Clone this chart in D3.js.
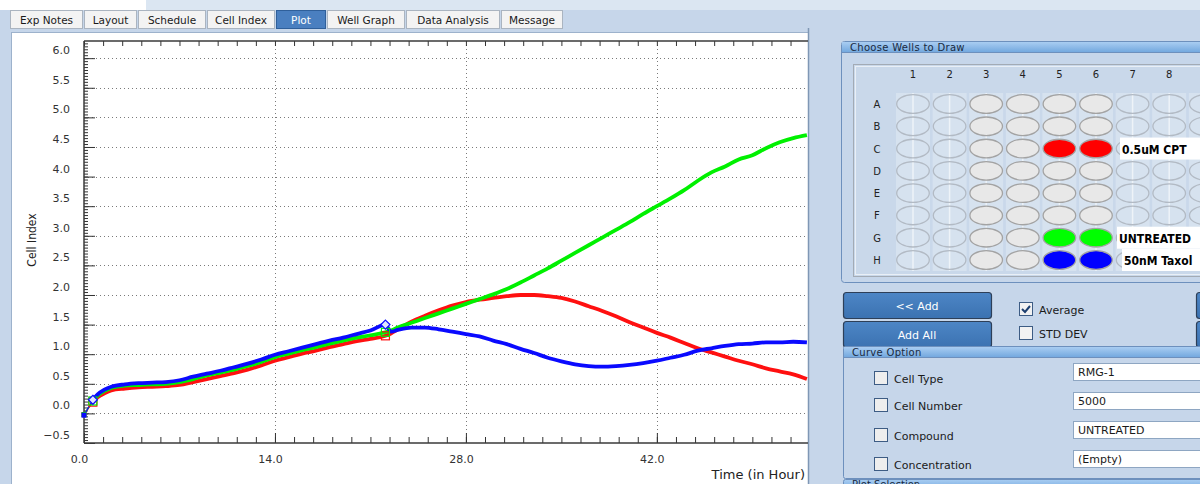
<!DOCTYPE html>
<html>
<head>
<meta charset="utf-8">
<script src="https://cdn.jsdelivr.net/npm/d3@7"></script>
<style>
  html, body { margin: 0; padding: 0; background: #c6d6ea; }
  svg { display: block; }
  text { font-family: "DejaVu Sans", Verdana, sans-serif; }
</style>
</head>
<body>
<svg id="app" width="1200" height="484"></svg>
<script>
// ---- Cell index readings (hours after seeding) ----
const hours = [0, 0.65, 1, 1.5, 2, 3, 4, 5, 6, 7, 8, 9, 10, 11, 12, 13, 14, 15, 16, 17, 18, 19, 20, 21,
  22.1, 22.5, 23, 24, 25, 26, 27, 28, 29, 30, 31, 32, 33, 34, 35, 36, 37, 38, 39, 40,
  41, 42, 43, 44, 45, 46, 47, 48, 49, 50, 51, 52, 53];

const cptValues = [-0.02, 0.19, 0.27, 0.34, 0.39, 0.42, 0.44, 0.45, 0.46, 0.48, 0.53, 0.58, 0.63, 0.68, 0.74, 0.81, 0.89, 0.95, 1.01, 1.06, 1.12, 1.17, 1.22, 1.26,
  1.31, 1.35, 1.42, 1.55, 1.65, 1.74, 1.82, 1.88, 1.92, 1.95, 1.98, 2.00, 2.00, 1.98, 1.95, 1.89, 1.81, 1.73, 1.64, 1.54,
  1.45, 1.36, 1.28, 1.19, 1.10, 1.03, 0.96, 0.89, 0.83, 0.76, 0.71, 0.66, 0.58];

const untreatedValues = [-0.02, 0.21, 0.30, 0.38, 0.43, 0.47, 0.48, 0.49, 0.50, 0.53, 0.58, 0.64, 0.69, 0.74, 0.80, 0.87, 0.95, 1.01, 1.07, 1.12, 1.18, 1.23, 1.28, 1.32,
  1.37, 1.40, 1.45, 1.53, 1.61, 1.69, 1.77, 1.85, 1.93, 2.01, 2.10, 2.21, 2.33, 2.45, 2.58, 2.71, 2.84, 2.97, 3.10, 3.23,
  3.37, 3.50, 3.63, 3.77, 3.93, 4.07, 4.17, 4.29, 4.36, 4.48, 4.58, 4.65, 4.70];

const taxolValues = [-0.03, 0.23, 0.32, 0.40, 0.45, 0.49, 0.51, 0.52, 0.53, 0.56, 0.62, 0.67, 0.72, 0.78, 0.84, 0.91, 0.99, 1.05, 1.11, 1.17, 1.23, 1.28, 1.34, 1.40,
  1.50, 1.38, 1.41, 1.45, 1.45, 1.42, 1.38, 1.34, 1.30, 1.23, 1.17, 1.09, 1.02, 0.94, 0.88, 0.83, 0.80, 0.79, 0.80, 0.82,
  0.85, 0.89, 0.94, 0.99, 1.06, 1.10, 1.14, 1.17, 1.18, 1.20, 1.20, 1.21, 1.20];

// readings that carry a sweep marker (start of sweep 2, compound addition)
const markerIndexes = [1, 24];

// ---- Axis ticks ----
const yTickValues = [-0.5, 0, 0.5, 1, 1.5, 2, 2.5, 3, 3.5, 4, 4.5, 5, 5.5, 6];
const yGridValues = [0, 0.5, 1, 1.5, 2, 2.5, 3, 3.5, 4, 4.5, 5, 5.5, 6];
const xTickValues = [0, 14, 28, 42];

// ---- Plate layout ----
const plateRows = ["A", "B", "C", "D", "E", "F", "G", "H"];
const plateCols = [1, 2, 3, 4, 5, 6, 7, 8, 9];
const usedCols = [3, 4, 5, 6];
const groupRows = ["C", "G", "H"];
const groupCols = [5, 6];
const groupNames = ["0.5uM CPT", "UNTREATED", "50nM Taxol"];
const groupColors = ["#ff0000", "#00ff00", "#0000ff"];

// ---- Tabs ----
const tabNames = ["Exp Notes", "Layout", "Schedule", "Cell Index", "Plot", "Well Graph", "Data Analysis", "Message"];
const tabWidths = [72, 52, 67, 67, 49, 77, 93, 61];
const activeTab = "Plot";

// ---- Curve option form ----
const optionNames = ["Cell Type", "Cell Number", "Compound", "Concentration"];
const optionValues = ["RMG-1", "5000", "UNTREATED", "(Empty)"];

const svg = d3.select("#app");
const defs = svg.append("defs");

const hdrGrad = defs.append("linearGradient").attr("id", "hdr").attr("x1", 0).attr("y1", 0).attr("x2", 0).attr("y2", 1);
hdrGrad.append("stop").attr("offset", "0%").attr("stop-color", "#a9cdf2");
hdrGrad.append("stop").attr("offset", "100%").attr("stop-color", "#74a9df");

const btnGrad = defs.append("linearGradient").attr("id", "btn").attr("x1", 0).attr("y1", 0).attr("x2", 0).attr("y2", 1);
btnGrad.append("stop").attr("offset", "0%").attr("stop-color", "#4d86c6");
btnGrad.append("stop").attr("offset", "100%").attr("stop-color", "#3b72b1");

// ---------- window background ----------
svg.append("rect").attr("x", 0).attr("y", 0).attr("width", 1200).attr("height", 484).attr("fill", "#c6d6ea");
svg.append("rect").attr("x", 0).attr("y", 0).attr("width", 146).attr("height", 10).attr("fill", "#ffffff");
svg.append("rect").attr("x", 146).attr("y", 0).attr("width", 1054).attr("height", 10).attr("fill", "#dbe6f2");

// ---------- tabs ----------
const tabs = svg.append("g");
let tx = 10;
tabNames.forEach((name, i) => {
  const w = tabWidths[i];
  const active = name === activeTab;
  tabs.append("rect")
    .attr("x", tx + 0.5).attr("y", 10.5).attr("width", w).attr("height", 18)
    .attr("fill", active ? "#4a7fc0" : "#f3f3f3")
    .attr("stroke", active ? "#2f5f9a" : "#aab4c0");
  tabs.append("text")
    .attr("x", tx + w / 2 + 0.5).attr("y", 23.5)
    .attr("text-anchor", "middle")
    .attr("font-size", 10.5)
    .attr("fill", active ? "#ffffff" : "#1a1a1a")
    .text(name);
  tx += w + 2;
});

// ---------- plot panel ----------
svg.append("rect").attr("x", 11.5).attr("y", 32.5).attr("width", 797).attr("height", 460)
  .attr("fill", "#ffffff").attr("stroke", "#9db2cc");
svg.append("line").attr("x1", 808.5).attr("x2", 808.5).attr("y1", 28).attr("y2", 484)
  .attr("stroke", "#7f97b5").attr("stroke-width", 1.5);

const plot = { left: 84, right: 808, top: 41, bottom: 443 };

const x = d3.scaleLinear().domain([0, 53.08]).range([plot.left, plot.right]);
const y = d3.scaleLinear().domain([-0.5, 6.29]).range([plot.bottom, plot.top]);

defs.append("clipPath").attr("id", "plotClip")
  .append("rect").attr("x", plot.left).attr("y", plot.top - 2)
  .attr("width", plot.right - plot.left).attr("height", plot.bottom - plot.top + 4);

// grid
const grid = svg.append("g").attr("stroke", "#7a7a7a").attr("stroke-dasharray", "1,3").attr("stroke-width", 1);
grid.selectAll("line.h").data(yGridValues).join("line")
  .attr("x1", plot.left).attr("x2", plot.right)
  .attr("y1", d => Math.round(y(d)) + 0.5).attr("y2", d => Math.round(y(d)) + 0.5);
grid.selectAll("line.v").data(xTickValues.filter(d => d > 0)).join("line")
  .attr("y1", plot.top).attr("y2", plot.bottom)
  .attr("x1", d => Math.round(x(d)) + 0.5).attr("x2", d => Math.round(x(d)) + 0.5);

// minor ticks
const yMinor = d3.range(-0.5, 6.29, 0.05);
const xMinor = d3.range(0, 53.1, 1.4);

function styleAxis(g) {
  g.select(".domain").remove();
  g.selectAll(".tick line").attr("stroke", "#333");
}

svg.append("g").attr("transform", `translate(${plot.left},0)`)
  .call(d3.axisLeft(y).tickValues(yMinor).tickSize(-4).tickFormat(""))
  .call(styleAxis);
svg.append("g").attr("transform", `translate(0,${plot.bottom})`)
  .call(d3.axisBottom(x).tickValues(xMinor).tickSize(-6).tickFormat(""))
  .call(styleAxis);
svg.append("g").attr("transform", `translate(0,${plot.top})`)
  .call(d3.axisTop(x).tickValues(xMinor).tickSize(-5).tickFormat(""))
  .call(styleAxis);

// major axes with labels
const yAxis = svg.append("g").attr("transform", `translate(${plot.left},0)`)
  .call(d3.axisLeft(y).tickValues(yTickValues).tickSize(-11).tickPadding(14).tickFormat(d3.format(".1f")));
yAxis.select(".domain").remove();
yAxis.selectAll(".tick line").attr("stroke", "#333");
yAxis.selectAll(".tick text").attr("y", -8).attr("font-size", 11).attr("fill", "#333")
  .attr("font-family", "DejaVu Sans, Verdana, sans-serif");

const xAxis = svg.append("g").attr("transform", `translate(0,${plot.bottom})`)
  .call(d3.axisBottom(x).tickValues(xTickValues).tickSize(-10).tickPadding(12).tickFormat(d3.format(".1f")));
xAxis.select(".domain").remove();
xAxis.selectAll(".tick line").attr("stroke", "#333");
xAxis.selectAll(".tick text").attr("x", -5).attr("font-size", 11).attr("fill", "#333")
  .attr("font-family", "DejaVu Sans, Verdana, sans-serif");

// frame lines
const frame = svg.append("g").attr("stroke", "#3a3a3a").attr("stroke-width", 1.5);
frame.append("line").attr("x1", plot.left).attr("x2", plot.left).attr("y1", plot.top).attr("y2", plot.bottom);
frame.append("line").attr("x1", plot.left).attr("x2", plot.right).attr("y1", plot.bottom).attr("y2", plot.bottom);
frame.append("line").attr("x1", plot.left).attr("x2", plot.right).attr("y1", plot.top).attr("y2", plot.top);

// axis titles
svg.append("text")
  .attr("transform", "translate(36,240) rotate(-90)")
  .attr("text-anchor", "middle")
  .attr("font-family", "DejaVu Sans Condensed, DejaVu Sans, sans-serif")
  .attr("font-stretch", "condensed")
  .attr("font-size", 12).attr("fill", "#222")
  .text("Cell Index");
svg.append("text")
  .attr("x", 805).attr("y", 479).attr("text-anchor", "end")
  .attr("font-size", 13).attr("fill", "#222")
  .text("Time (in Hour)");

// ---------- curves ----------
const series = [
  { name: "0.5uM CPT", values: cptValues, color: "#ff1010" },
  { name: "UNTREATED", values: untreatedValues, color: "#00f000" },
  { name: "50nM Taxol", values: taxolValues, color: "#0a0aff" }
];

const curves = svg.append("g").attr("clip-path", "url(#plotClip)");
const line = d3.line().x(d => x(d[0])).y(d => y(d[1])).curve(d3.curveMonotoneX);

series.forEach(s => {
  const pts = hours.map((h, i) => [h, s.values[i]]);
  // thin lead-in segment up to the first sweep marker
  curves.append("path").datum(pts.slice(0, 2))
    .attr("d", d3.line().x(d => x(d[0])).y(d => y(d[1])))
    .attr("fill", "none").attr("stroke", s.color).attr("stroke-width", 1.2);
  curves.append("path").datum(pts.slice(1))
    .attr("d", line)
    .attr("fill", "none").attr("stroke", s.color)
    .attr("stroke-width", 3.8).attr("stroke-linejoin", "round");
});

// start points and sweep markers
const marks = svg.append("g");
series.forEach(s => {
  marks.append("rect")
    .attr("x", x(hours[0]) - 2.5).attr("y", y(s.values[0]) - 2.5)
    .attr("width", 5).attr("height", 5).attr("fill", s.color);
});
series.forEach((s, k) => {
  markerIndexes.forEach(i => {
    const cx = x(hours[i]), cy = y(s.values[i]);
    if (k === 2) {
      marks.append("path")
        .attr("d", `M${cx},${cy - 4.5} L${cx + 4.5},${cy} L${cx},${cy + 4.5} L${cx - 4.5},${cy} Z`)
        .attr("fill", "#dfe6ff").attr("stroke", s.color).attr("stroke-width", 1.2);
    } else {
      marks.append("rect").attr("x", cx - 4).attr("y", cy - 4).attr("width", 8).attr("height", 8)
        .attr("fill", "none").attr("stroke", s.color).attr("stroke-width", 1.2);
    }
  });
});

// ---------- well chooser ----------
const panel = svg.append("g");
panel.append("rect").attr("x", 841.5).attr("y", 41.5).attr("width", 380).attr("height", 241).attr("rx", 3)
  .attr("fill", "#c6d6ea").attr("stroke", "#6d90bd");
panel.append("rect").attr("x", 842).attr("y", 42).attr("width", 380).attr("height", 10).attr("fill", "url(#hdr)");
panel.append("line").attr("x1", 842).attr("x2", 1200).attr("y1", 52.5).attr("y2", 52.5).attr("stroke", "#6d90bd");
panel.append("text").attr("x", 850).attr("y", 50.5).attr("font-size", 10).attr("fill", "#1a2a40")
  .attr("letter-spacing", 0.3).text("Choose Wells to Draw");

panel.append("rect").attr("x", 853.5).attr("y", 64.5).attr("width", 360).attr("height", 212)
  .attr("fill", "#c9d8ea").attr("stroke", "#a3abb5");
panel.append("rect").attr("x", 855.5).attr("y", 66.5).attr("width", 360).attr("height", 208)
  .attr("fill", "none").attr("stroke", "#e9eff6");

const colX = d3.scalePoint().domain(plateCols).range([913, 913 + 8 * 36.6]);
const rowY = d3.scalePoint().domain(plateRows).range([104, 260]);

// column bands
panel.selectAll("rect.band").data(plateCols).join("rect")
  .attr("x", d => colX(d) - 17).attr("y", 93).attr("width", 34).attr("height", 178)
  .attr("fill", "#d6e2ef");
panel.selectAll("line.band").data(plateCols).join("line")
  .attr("x1", d => colX(d)).attr("x2", d => colX(d)).attr("y1", 93).attr("y2", 271)
  .attr("stroke", "#eef3f8").attr("stroke-width", 1.5);

// column and row headers
panel.selectAll("text.col").data(plateCols.slice(0, 8)).join("text")
  .attr("x", d => colX(d)).attr("y", 78).attr("text-anchor", "middle")
  .attr("font-size", 10).attr("fill", "#222").text(d => d);
panel.selectAll("text.row").data(plateRows).join("text")
  .attr("x", 877).attr("y", d => rowY(d) + 4).attr("text-anchor", "middle")
  .attr("font-size", 10).attr("fill", "#222").text(d => d);

// wells
const wells = [];
plateRows.forEach(r => plateCols.forEach(c => wells.push({ r, c })));
function wellFill(w) {
  const g = groupRows.indexOf(w.r);
  if (g >= 0 && groupCols.includes(w.c)) return groupColors[g];
  return usedCols.includes(w.c) ? "#e8e8e8" : "none";
}
panel.selectAll("ellipse.well").data(wells).join("ellipse")
  .attr("cx", d => colX(d.c)).attr("cy", d => rowY(d.r))
  .attr("rx", 16.3).attr("ry", 9.3)
  .attr("fill", wellFill)
  .attr("stroke", d => wellFill(d) === "none" ? "#b2bac4" : "#a3a3a3")
  .attr("stroke-width", 1.3);

// group labels
groupRows.forEach((r, i) => {
  const lx = colX(6) + 24 + (i === 1 ? -3 : (i === 2 ? 2 : 0));
  panel.append("rect").attr("x", lx).attr("y", rowY(r) - 11).attr("width", 90).attr("height", 22).attr("fill", "#ffffff");
  panel.append("text").attr("x", lx + 2).attr("y", rowY(r) + 5)
    .attr("font-family", "DejaVu Sans Condensed, DejaVu Sans, sans-serif")
    .attr("font-stretch", "condensed")
    .attr("font-weight", "bold").attr("font-size", 12).attr("fill", "#000")
    .text(groupNames[i]);
});

// ---------- buttons and toggles ----------
const btnLabels = ["<< Add", "Add All"];
btnLabels.forEach((b, i) => {
  const by = 292 + i * 29;
  panel.append("rect").attr("x", 843.5).attr("y", by + 0.5).attr("width", 148).attr("height", 26).attr("rx", 3)
    .attr("fill", "url(#btn)").attr("stroke", "#2d3f58").attr("stroke-width", 1.2);
  panel.append("text").attr("x", 917).attr("y", by + 17.5).attr("text-anchor", "middle")
    .attr("font-size", 11).attr("fill", "#ffffff").text(b);
  panel.append("rect").attr("x", 1196.5).attr("y", by + 0.5).attr("width", 20).attr("height", 26).attr("rx", 3)
    .attr("fill", "url(#btn)").attr("stroke", "#2d3f58").attr("stroke-width", 1.2);
});

const toggleNames = ["Average", "STD DEV"];
const toggleChecked = [true, false];
toggleNames.forEach((t, i) => {
  const cy = 309 + i * 24;
  panel.append("rect").attr("x", 1019.5).attr("y", cy - 6.5).attr("width", 13).attr("height", 13)
    .attr("fill", "#f2f2f2").attr("stroke", "#3d5c84");
  if (toggleChecked[i]) {
    panel.append("path").attr("d", `M1022,${cy} L1025,${cy + 3} L1030,${cy - 3}`)
      .attr("fill", "none").attr("stroke", "#1d3f70").attr("stroke-width", 2);
  }
  panel.append("text").attr("x", 1039).attr("y", cy + 4.5).attr("font-size", 11).attr("fill", "#1a1a1a").text(t);
});

// ---------- curve option ----------
panel.append("rect").attr("x", 843.5).attr("y", 346.5).attr("width", 380).attr("height", 132).attr("rx", 2)
  .attr("fill", "#c6d6ea").attr("stroke", "#6d90bd");
panel.append("rect").attr("x", 844).attr("y", 347).attr("width", 380).attr("height", 10).attr("fill", "url(#hdr)");
panel.append("line").attr("x1", 844).attr("x2", 1200).attr("y1", 357.5).attr("y2", 357.5).attr("stroke", "#6d90bd");
panel.append("text").attr("x", 852).attr("y", 355.5).attr("font-size", 10).attr("fill", "#1a2a40")
  .attr("letter-spacing", 0.3).text("Curve Option");

const optY = [378, 405, 435, 464];
const fieldY = [372, 401, 430, 459];
optionNames.forEach((o, i) => {
  panel.append("rect").attr("x", 874.5).attr("y", optY[i] - 6.5).attr("width", 13).attr("height", 13)
    .attr("fill", "#eeeeee").attr("stroke", "#3d5c84");
  panel.append("text").attr("x", 894).attr("y", optY[i] + 4.5).attr("font-size", 11).attr("fill", "#1a1a1a").text(o);
  panel.append("rect").attr("x", 1073.5).attr("y", fieldY[i] - 8.5).attr("width", 140).attr("height", 17)
    .attr("fill", "#ffffff").attr("stroke", "#8ea6c2");
  panel.append("text").attr("x", 1078).attr("y", fieldY[i] + 4).attr("font-size", 11).attr("fill", "#1a1a1a")
    .text(optionValues[i]);
});

// next group header, cut off at the window edge
panel.append("rect").attr("x", 843.5).attr("y", 479.5).attr("width", 380).attr("height", 10).attr("rx", 2)
  .attr("fill", "url(#hdr)").attr("stroke", "#6d90bd");
panel.append("text").attr("x", 852).attr("y", 488).attr("font-size", 10).attr("fill", "#1a2a40").text("Plot Selection");
</script>
</body>
</html>
